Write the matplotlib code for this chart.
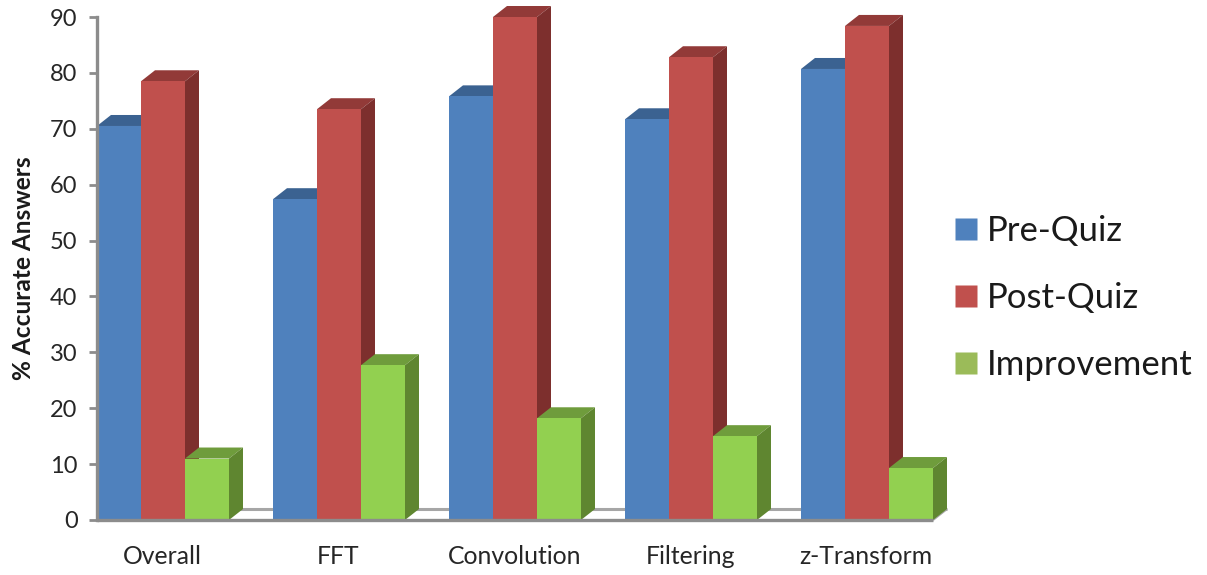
import matplotlib
matplotlib.use("Agg")
import matplotlib.pyplot as plt
from matplotlib.patches import Polygon, Rectangle
from matplotlib.lines import Line2D

categories = ["Overall", "FFT", "Convolution", "Filtering", "z-Transform"]
pre_quiz = [70.5, 57.4, 75.8, 71.7, 80.7]
post_quiz = [78.5, 73.5, 90.0, 82.8, 88.4]
improvement = [11.0, 27.7, 18.2, 15.0, 9.3]
series_names = ["Pre-Quiz", "Post-Quiz", "Improvement"]
y_ticks = list(range(0, 100, 10))

# (front, top, side) shades for each series
shades = [("#4f81bd", "#3b6291", "#345a86"),
          ("#c0504d", "#923a38", "#7d2f2d"),
          ("#92d050", "#6f9c3c", "#5f8630")]

W, H = 1207, 575
LEFT, RIGHT, BOTTOM, TOP = 97, 947, 520, 17
GROUP_PX, BAR_PX, DX_PX, DY_PX = 176, 44, 14, 11
GREY = "#8c8c8c"

plt.rcParams["font.family"] = ["Lato", "DejaVu Sans"]
fig = plt.figure(figsize=(W / 100, H / 100), dpi=100)
ax = fig.add_axes([LEFT / W, 1 - BOTTOM / H, (RIGHT - LEFT) / W, (BOTTOM - TOP) / H])
ax.set_xlim(0, (RIGHT - LEFT) / GROUP_PX)
ax.set_ylim(0, 90)

bar_w = BAR_PX / GROUP_PX
dx = DX_PX / GROUP_PX
dy = DY_PX / ((BOTTOM - TOP) / 90)

# Floor: front edge, receding right edge and the back edge behind the bars
n = len(categories)
floor_end = n - (GROUP_PX - 3 * BAR_PX) / GROUP_PX
ax.plot([floor_end + dx, dx], [dy, dy], color="#a6a6a6", lw=2.2, zorder=1,
        clip_on=False, solid_capstyle="butt")
ax.plot([floor_end, floor_end + dx], [0, dy], color="#a6a6a6", lw=1.5, zorder=1,
        clip_on=False, solid_capstyle="butt")
ax.plot([0, floor_end], [0, 0], color=GREY, lw=2.4, zorder=8, clip_on=False,
        solid_capstyle="butt")


def draw_bar(x, value, colors, z):
    front, top, side = colors
    ax.add_patch(Polygon([(x, value), (x + dx, value + dy), (x + bar_w + dx, value + dy),
                          (x + bar_w, value)], closed=True, fc=top, ec="none", zorder=z, clip_on=False))
    ax.add_patch(Polygon([(x + bar_w, 0), (x + bar_w + dx, dy), (x + bar_w + dx, value + dy),
                          (x + bar_w, value)], closed=True, fc=side, ec="none", zorder=z, clip_on=False))
    ax.add_patch(Rectangle((x, 0), bar_w, value, fc=front, ec="none", zorder=z + 0.5, clip_on=False))


for i in range(n):
    for j, values in enumerate((pre_quiz, post_quiz, improvement)):
        draw_bar(i + j * bar_w, values[i], shades[j], 2 + i + j * 0.1)

ax.set_yticks(y_ticks)
ax.tick_params(axis="y", labelsize=17, length=6, width=2, color=GREY, pad=8, labelcolor="#262626")
ax.set_xticks([i + 1.5 * bar_w - 0.004 for i in range(n)], categories)
ax.tick_params(axis="x", length=0, labelsize=17.8, pad=18, labelcolor="#262626")
for side in ("top", "right", "bottom"):
    ax.spines[side].set_visible(False)
ax.spines["left"].set_color(GREY)
ax.spines["left"].set_linewidth(2.4)
ax.set_ylabel("% Accurate Answers", fontsize=17.6, fontweight="bold", color="#1a1a1a")
ax.yaxis.set_label_coords((35 - LEFT) / (RIGHT - LEFT), (BOTTOM - 268) / (BOTTOM - TOP))

handles = [Line2D([], [], ls="none", marker="s", ms=16, mfc=shades[k][0], mec="none") for k in range(3)]
handles[2].set_markerfacecolor("#9bbb59")
fig.legend(handles, series_names, loc="center left", bbox_to_anchor=(931 / W, 1 - 298 / H),
           frameon=False, fontsize=25, labelspacing=1.0, handletextpad=0.1,
           handlelength=1.0, borderpad=0, labelcolor="#1a1a1a")

fig.savefig("out.png", dpi=100, facecolor="white")
